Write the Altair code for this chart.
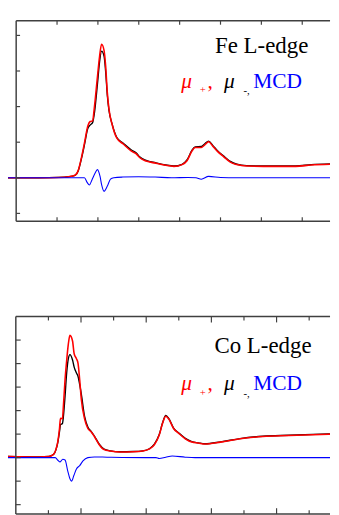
import altair as alt
import pandas as pd

# ---------------- Fe L-edge (top panel) ----------------
fe_plus_e = [694.0, 697.8, 700.2, 701.4, 702.2, 702.6, 703.0, 703.4, 703.75, 704.05, 704.35, 704.55,
             704.95, 705.2, 705.45, 705.75, 705.95, 706.15, 706.35, 706.75, 707.3, 708.1, 709.1, 709.7,
             710.1, 710.9, 712.1, 713.3, 714.3, 715.3, 715.9, 716.5, 716.9, 717.65, 718.05, 718.55,
             719.05, 719.6, 720.4, 721.2, 722.0, 723.2, 726.4, 729.2, 731.1, 733.4]
fe_plus_v = [0.0, 0.0, 0.01, 0.03, 0.07, 0.21, 0.58, 1.03, 1.44, 1.58, 1.60, 1.94,
             2.85, 3.40, 3.75, 3.58, 3.13, 2.40, 1.94, 1.49, 1.12, 0.95, 0.75, 0.67,
             0.57, 0.47, 0.41, 0.35, 0.32, 0.37, 0.48, 0.75, 0.85, 0.85, 0.92, 1.01,
             0.89, 0.75, 0.59, 0.44, 0.37, 0.33, 0.32, 0.32, 0.36, 0.38]
fe_minus_e = [694.0, 697.8, 700.2, 701.4, 702.2, 702.6, 703.0, 703.4, 703.75, 704.05, 704.35, 704.55,
              704.95, 705.2, 705.45, 705.75, 705.95, 706.15, 706.35, 706.75, 707.3, 708.1, 709.1, 709.7,
              710.1, 710.9, 712.1, 713.3, 714.3, 715.3, 715.9, 716.5, 716.9, 717.65, 718.05, 718.55,
              719.05, 719.6, 720.4, 721.2, 722.0, 723.2, 726.4, 729.2, 731.1, 733.4]
fe_minus_v = [0.0, 0.0, 0.01, 0.03, 0.07, 0.20, 0.55, 0.98, 1.38, 1.48, 1.55, 1.78,
              2.65, 3.25, 3.56, 3.42, 2.98, 2.32, 1.90, 1.50, 1.14, 0.97, 0.78, 0.70,
              0.59, 0.49, 0.42, 0.36, 0.33, 0.38, 0.50, 0.77, 0.87, 0.88, 0.95, 1.03,
              0.91, 0.77, 0.61, 0.46, 0.38, 0.34, 0.33, 0.33, 0.37, 0.39]
fe_mcd_e = [694.0, 702.5, 703.35, 703.68, 703.96, 704.27, 704.63, 704.95, 705.27, 705.46, 705.75,
            706.14, 706.54, 706.94, 708.0, 710.0, 712.0, 714.0, 716.0, 717.0, 717.65, 718.55,
            720.0, 722.0, 733.4]
fe_mcd_v = [0.0, 0.0, 0.0, -0.13, -0.20, -0.06, 0.12, 0.23, 0.03, -0.20, -0.38,
            -0.24, -0.04, 0.0, 0.02, 0.03, 0.02, 0.0, 0.01, 0.0, -0.04, 0.04,
            0.01, 0.0, 0.0]
fe_xticks = [700, 705, 710, 715, 720, 725, 730]
fe_yticks = [-1, 0, 1, 2, 3, 4]

# ---------------- Co L-edge (bottom panel) ----------------
co_plus_e = [768.8, 773.6, 775.1, 775.8, 776.15, 776.45, 776.7, 776.85, 777.15, 777.3, 777.55, 777.8,
             778.05, 778.3, 778.7, 778.95, 779.3, 779.55, 779.8, 780.05, 780.55, 781.05, 781.55,
             782.05, 782.8, 783.55, 784.5, 786.0, 788.0, 789.5, 790.5, 791.25, 792.0, 792.5, 793.0,
             793.45, 794.2, 795.0, 796.0, 797.0, 798.0, 799.0, 801.4, 804.4, 807.9, 811.9, 818.2]
co_plus_v = [0.05, 0.03, 0.05, 0.14, 0.34, 0.69, 1.24, 1.67, 1.65, 2.20, 3.31, 4.13,
             4.82, 5.20, 4.96, 4.42, 4.21, 4.00, 3.30, 2.48, 1.65, 1.24, 1.10,
             0.90, 0.55, 0.34, 0.28, 0.24, 0.25, 0.28, 0.37, 0.55, 0.96, 1.45, 1.76,
             1.65, 1.24, 1.03, 0.80, 0.66, 0.62, 0.58, 0.66, 0.80, 0.90, 0.94, 1.00]
co_minus_e = [768.8, 773.6, 775.1, 775.8, 776.15, 776.45, 776.7, 776.85, 777.15, 777.3, 777.55, 777.8,
              778.05, 778.3, 778.7, 778.95, 779.3, 779.55, 779.8, 780.05, 780.55, 781.05, 781.55,
              782.05, 782.8, 783.55, 784.5, 786.0, 788.0, 789.5, 790.5, 791.25, 792.0, 792.5, 793.0,
              793.45, 794.2, 795.0, 796.0, 797.0, 798.0, 799.0, 801.4, 804.4, 807.9, 811.9, 818.2]
co_minus_v = [0.05, 0.03, 0.05, 0.14, 0.33, 0.66, 1.10, 1.40, 1.45, 1.75, 2.60, 3.60,
              4.20, 4.38, 4.15, 3.85, 3.60, 3.45, 3.10, 2.70, 1.75, 1.30, 1.12,
              0.92, 0.57, 0.36, 0.29, 0.25, 0.26, 0.29, 0.38, 0.57, 0.98, 1.47, 1.79,
              1.67, 1.26, 1.05, 0.82, 0.68, 0.63, 0.59, 0.67, 0.81, 0.91, 0.95, 1.01]
co_mcd_e = [768.8, 776.05, 776.45, 776.8, 777.2, 777.55, 777.95, 778.3, 778.55, 778.9, 779.3,
            779.8, 780.3, 781.05, 782.05, 784.0, 790.0, 791.5, 792.0, 793.0, 794.0, 796.0, 797.5, 818.2]
co_mcd_v = [0.0, 0.0, -0.11, -0.18, -0.07, -0.10, -0.55, -0.90, -1.00, -0.76, -0.48,
            -0.34, -0.14, 0.0, 0.03, 0.02, 0.0, 0.0, -0.04, 0.02, 0.07, 0.02, 0.0, 0.0]
co_xticks_major = [780, 790, 800, 810]
co_xticks_minor = [775, 785, 795, 805, 815]
co_yticks = [-2, -1, 0, 1, 2, 3, 4, 5]

FRAME = "#404040"
SERIF = "Liberation Serif, Times New Roman, Times, DejaVu Serif, serif"


def make_panel(series, xdom, ydom, W, H, frame_x, xmaj, xmin, maj_len, min_len, yticks, ytick_len,
               title, title_right, title_base, leg_left, leg_base):
    xs = alt.Scale(domain=xdom, nice=False, zero=False)
    ys = alt.Scale(domain=ydom, nice=False, zero=False)
    one = pd.DataFrame({"a": [0]})
    layers = []
    for e, v, color, sw in series:
        df = pd.DataFrame({"E": e, "v": v})
        layers.append(
            alt.Chart(df).mark_line(color=color, strokeWidth=sw, interpolate="monotone", clip=True)
            .encode(x=alt.X("E:Q", scale=xs, axis=None), y=alt.Y("v:Q", scale=ys, axis=None))
        )
    fpx = (frame_x - xdom[0]) / (xdom[1] - xdom[0]) * W
    # frame
    layers.append(alt.Chart(one).mark_rule(color=FRAME, strokeWidth=1.5)
                  .encode(x=alt.value(fpx), y=alt.value(0), y2=alt.value(H)))
    layers.append(alt.Chart(one).mark_rule(color=FRAME, strokeWidth=1.5)
                  .encode(x=alt.value(fpx), x2=alt.value(W), y=alt.value(0)))
    layers.append(alt.Chart(one).mark_rule(color=FRAME, strokeWidth=1.5)
                  .encode(x=alt.value(fpx), x2=alt.value(W), y=alt.value(H)))
    # x ticks (inward, top and bottom)
    for ticks, L in ((xmaj, maj_len), (xmin, min_len)):
        if ticks:
            tdf = pd.DataFrame({"t": ticks})
            layers.append(alt.Chart(tdf).mark_rule(color=FRAME, strokeWidth=1.2)
                          .encode(x=alt.X("t:Q", scale=xs, axis=None), y=alt.value(0), y2=alt.value(L)))
            layers.append(alt.Chart(tdf).mark_rule(color=FRAME, strokeWidth=1.2)
                          .encode(x=alt.X("t:Q", scale=xs, axis=None), y=alt.value(H - L), y2=alt.value(H)))
    # y ticks (inward, left)
    ydf = pd.DataFrame({"yt": yticks})
    layers.append(alt.Chart(ydf).mark_rule(color=FRAME, strokeWidth=1.2)
                  .encode(x=alt.value(fpx), x2=alt.value(fpx + ytick_len),
                          y=alt.Y("yt:Q", scale=ys, axis=None)))
    # title
    layers.append(alt.Chart(one).mark_text(font=SERIF, fontSize=23.5, align="right",
                                           baseline="alphabetic", color="black")
                  .encode(x=alt.value(title_right), y=alt.value(title_base), text=alt.value(title)))
    # legend line: mu_+, mu_-, MCD
    pieces = [
        ("\u03bc", leg_left, leg_base, 22, "italic", "red"),
        ("+", leg_left + 19, leg_base + 6, 11, "normal", "red"),
        (",", leg_left + 27, leg_base, 22, "normal", "red"),
        ("\u03bc", leg_left + 44, leg_base, 22, "italic", "black"),
        ("-,", leg_left + 64, leg_base + 7, 11, "normal", "black"),
        ("MCD", leg_left + 74, leg_base, 22, "normal", "blue"),
    ]
    for txt, px, py, fs, fst, col in pieces:
        layers.append(alt.Chart(one).mark_text(font=SERIF, fontSize=fs, fontStyle=fst, align="left",
                                               baseline="alphabetic", color=col)
                      .encode(x=alt.value(px), y=alt.value(py), text=alt.value(txt)))
    return alt.layer(*layers).properties(width=W, height=H)


W = 331
top = make_panel(
    [(fe_minus_e, fe_minus_v, "black", 1.4), (fe_plus_e, fe_plus_v, "red", 1.6),
     (fe_mcd_e, fe_mcd_v, "blue", 1.1)],
    xdom=[694.0, 733.4], ydom=[-1.22, 4.41], W=W, H=206, frame_x=695,
    xmaj=fe_xticks, xmin=[], maj_len=4, min_len=4, yticks=fe_yticks, ytick_len=4,
    title="Fe L-edge", title_right=308.7, title_base=32.7, leg_left=178, leg_base=68.7)

bottom = make_panel(
    [(co_minus_e, co_minus_v, "black", 1.4), (co_plus_e, co_plus_v, "red", 1.6),
     (co_mcd_e, co_mcd_v, "blue", 1.1)],
    xdom=[768.8, 818.2], ydom=[-2.4, 6.0], W=W, H=203, frame_x=770,
    xmaj=co_xticks_major, xmin=co_xticks_minor, maj_len=6, min_len=4, yticks=co_yticks, ytick_len=5,
    title="Co L-edge", title_right=312, title_base=37.3, leg_left=178, leg_base=75.7)

chart = (
    alt.vconcat(top, bottom, spacing=96)
    .resolve_scale(x="independent", y="independent")
    .properties(padding={"left": 0, "top": 5, "right": 0, "bottom": 0})
    .configure_view(strokeWidth=0)
)

chart.save("out.html", embed_options={"renderer": "svg", "actions": False})
